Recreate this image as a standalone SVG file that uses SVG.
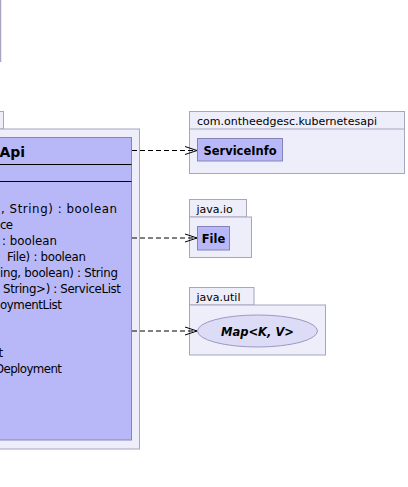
<svg xmlns="http://www.w3.org/2000/svg" width="408" height="487" viewBox="0 0 408 487">
  <style>
    .pkg { fill: #eeeefb; stroke: #a6a6bf; stroke-width: 1; }
    .cls { fill: #b8b8f9; stroke: #8484b8; stroke-width: 1; }
    .sep { stroke: #000000; stroke-width: 1; }
    .iface { fill: #dcdcf7; stroke: #9a9ac0; stroke-width: 1; }
    .t { font-family: "DejaVu Sans", "Liberation Sans", sans-serif; font-size: 11.8px; fill: #000000; }
    .pk { font-family: "DejaVu Sans", "Liberation Sans", sans-serif; font-size: 11px; fill: #000000; }
    .name { font-family: "DejaVu Sans", "Liberation Sans", sans-serif; font-size: 11.5px; font-weight: bold; fill: #000000; }
    .title { font-family: "DejaVu Sans", "Liberation Sans", sans-serif; font-size: 14px; font-weight: bold; fill: #000000; }
    .dep { fill: none; stroke: #000000; stroke-width: 1; stroke-dasharray: 5,3; }
    .head { fill: none; stroke: #000000; stroke-width: 1; }
  </style>

  <!-- edge of a box above -->
  <g id="upper-box">
    <line x1="0.5" y1="0" x2="0.5" y2="62" stroke="#a6a6bf" stroke-width="1.5"/>
  </g>

  <!-- enclosing package with the Api class -->
  <g id="pkg-main">
    <rect class="pkg" x="-40" y="111.5" width="43.5" height="17.5"/>
    <rect class="pkg" x="-40" y="129" width="179.5" height="320"/>
  </g>

  <g id="class-api">
    <rect class="cls" x="-40" y="137.5" width="171.5" height="302.5"/>
    <text class="title" x="-0.5" y="157">Api</text>
    <line class="sep" x1="-40" y1="164.5" x2="131.5" y2="164.5"/>
    <line class="sep" x1="-40" y1="181.5" x2="131.5" y2="181.5"/>
    <text class="t" x="1" y="212.5" textLength="116" lengthAdjust="spacing">, String) : boolean</text>
    <text class="t" x="0" y="228.5" textLength="13" lengthAdjust="spacing">ce</text>
    <text class="t" x="2" y="244.5" textLength="55" lengthAdjust="spacing">: boolean</text>
    <text class="t" x="7" y="260.5" textLength="79" lengthAdjust="spacing">File) : boolean</text>
    <text class="t" x="0" y="276.5" textLength="118" lengthAdjust="spacing">ing, boolean) : String</text>
    <text class="t" x="3" y="292.5" textLength="118" lengthAdjust="spacing">String&gt;) : ServiceList</text>
    <text class="t" x="0" y="308.5" textLength="62" lengthAdjust="spacing">oymentList</text>
    <text class="t" x="-1.5" y="356.5">t</text>
    <text class="t" x="-5" y="372.5" textLength="67" lengthAdjust="spacing">Deployment</text>
  </g>

  <!-- com.ontheedgesc.kubernetesapi -->
  <g id="pkg-kubernetesapi">
    <rect class="pkg" x="189.5" y="111.5" width="215" height="62"/>
    <line x1="189.5" y1="129" x2="404.5" y2="129" stroke="#a6a6bf" stroke-width="1"/>
    <text class="pk" x="197" y="125">com.ontheedgesc.kubernetesapi</text>
  </g>
  <g id="class-serviceinfo">
    <rect class="cls" x="197.5" y="138.5" width="85" height="22.5"/>
    <text class="name" x="240" y="155" text-anchor="middle">ServiceInfo</text>
  </g>

  <!-- java.io -->
  <g id="pkg-java-io">
    <rect class="pkg" x="189.5" y="199.5" width="57" height="17.5"/>
    <rect class="pkg" x="189.5" y="217" width="62" height="40.5"/>
    <text class="pk" x="196.5" y="213">java.io</text>
  </g>
  <g id="class-file">
    <rect class="cls" x="197.5" y="226.5" width="32" height="23.5"/>
    <text class="name" x="213.5" y="242.5" text-anchor="middle">File</text>
  </g>

  <!-- java.util -->
  <g id="pkg-java-util">
    <rect class="pkg" x="189.5" y="287.5" width="64.5" height="17.5"/>
    <rect class="pkg" x="189.5" y="305" width="136" height="50"/>
    <text class="pk" x="196.5" y="301">java.util</text>
  </g>
  <g id="iface-map">
    <ellipse class="iface" cx="257.5" cy="331" rx="60" ry="16"/>
    <text class="name" x="257.5" y="335.5" text-anchor="middle" font-style="italic">Map&lt;K, V&gt;</text>
  </g>

  <!-- dependency connectors -->
  <g id="connectors">
    <line class="dep" x1="132" y1="150.5" x2="196.5" y2="150.5"/>
    <polyline class="head" points="185,146.5 197,150.5 185,154.5"/>
    <line class="dep" x1="132" y1="238" x2="196.5" y2="238"/>
    <polyline class="head" points="185,234 197,238 185,242"/>
    <line class="dep" x1="132" y1="331" x2="196.5" y2="331"/>
    <polyline class="head" points="185,327 197,331 185,335"/>
  </g>
</svg>
